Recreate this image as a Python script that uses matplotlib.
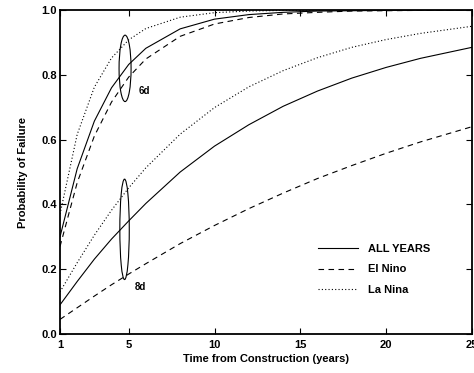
import matplotlib
matplotlib.use('Agg')
import matplotlib.pyplot as plt
from matplotlib.patches import Ellipse

plt.rcParams['font.family'] = ['Liberation Sans', 'DejaVu Sans']
plt.rcParams['font.size'] = 8
plt.rcParams['font.weight'] = 'bold'

# years
years = [1, 2, 3, 4, 5, 6, 8, 10, 12, 14, 16, 18, 20, 22, 25]

# upper group (6d)
all_6d = [0.30, 0.51, 0.657, 0.76, 0.832, 0.882, 0.942, 0.972, 0.986, 0.993, 0.997, 0.998, 0.999, 1.0, 1.0]
elnino_6d = [0.27, 0.467, 0.611, 0.716, 0.793, 0.849, 0.919, 0.957, 0.977, 0.988, 0.993, 0.997, 0.998, 0.999, 1.0]
lanina_6d = [0.37, 0.616, 0.762, 0.852, 0.908, 0.943, 0.978, 0.992, 0.997, 0.999, 1.0, 1.0, 1.0, 1.0, 1.0]

# lower group (8d)
all_8d = [0.09, 0.162, 0.231, 0.293, 0.349, 0.403, 0.50, 0.58, 0.646, 0.703, 0.75, 0.79, 0.823, 0.851, 0.885]
elnino_8d = [0.045, 0.081, 0.117, 0.152, 0.185, 0.217, 0.279, 0.335, 0.387, 0.435, 0.48, 0.52, 0.558, 0.593, 0.64]
lanina_8d = [0.13, 0.22, 0.305, 0.382, 0.451, 0.513, 0.617, 0.699, 0.763, 0.813, 0.853, 0.885, 0.909, 0.928, 0.95]

labels = ['ALL YEARS', 'El Nino', 'La Nina']
styles = ['-', (0, (5, 4)), (0, (1, 2))]

fig = plt.figure(figsize=(4.74, 3.73), dpi=100)
ax = fig.add_axes([0.1266, 0.1046, 0.8692, 0.8684])

lw = 0.8
for ys, st, lab in zip([all_6d, elnino_6d, lanina_6d], styles, labels):
    ax.plot(years, ys, color='black', linestyle=st, linewidth=lw, label=lab)
for ys, st in zip([all_8d, elnino_8d, lanina_8d], styles):
    ax.plot(years, ys, color='black', linestyle=st, linewidth=lw)

# ellipses marking the groups
ax.add_patch(Ellipse((4.79, 0.82), 0.7, 0.205, fill=False, edgecolor='black', linewidth=lw))
ax.add_patch(Ellipse((4.76, 0.323), 0.55, 0.31, fill=False, edgecolor='black', linewidth=lw))
ax.text(5.6, 0.75, '6d', fontsize=7, fontweight='bold', va='center', ha='left')
ax.text(5.35, 0.145, '8d', fontsize=7, fontweight='bold', va='center', ha='left')

ax.set_xlim(1, 25)
ax.set_ylim(0, 1)
ax.set_xticks([1, 5, 10, 15, 20, 25])
ax.set_yticks([0.0, 0.2, 0.4, 0.6, 0.8, 1.0])
ax.set_yticklabels(['0.0', '0.2', '0.4', '0.6', '0.8', '1.0'])
ax.tick_params(direction='in', top=True, right=True, length=4, width=0.8, labelsize=8)
ax.tick_params(axis='x', pad=4)
ax.tick_params(axis='y', pad=2)
for sp in ax.spines.values():
    sp.set_linewidth(1.3)

ax.set_xlabel('Time from Construction (years)', fontsize=8, fontweight='bold', labelpad=3)
ax.set_ylabel('Probability of Failure', fontsize=8, fontweight='bold', labelpad=10)

ax.legend(loc='upper left', bbox_to_anchor=(0.626, 0.278), frameon=False,
          borderpad=0, borderaxespad=0, handlelength=3.6, handletextpad=0.9,
          labelspacing=0.95, fontsize=8)

fig.savefig('out.png', dpi=100)
